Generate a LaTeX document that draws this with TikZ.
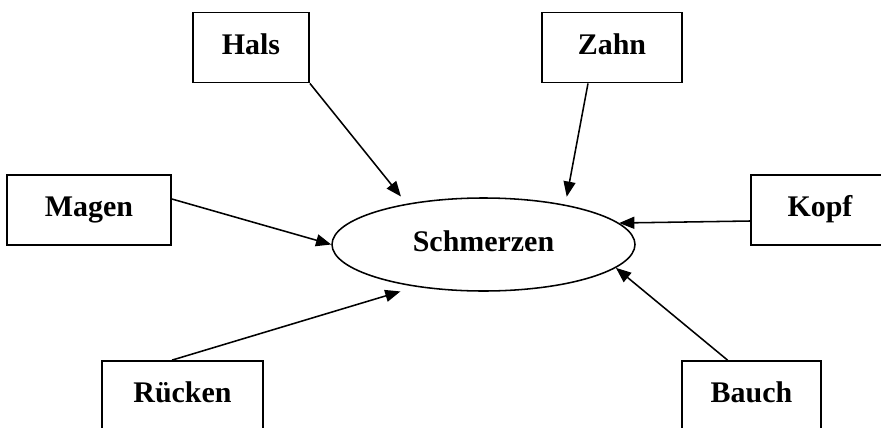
\documentclass[tikz,border=0pt]{standalone}
\usepackage{fontspec}
\setmainfont{Liberation Serif}
\usetikzlibrary{positioning,arrows.meta,shapes.geometric}

\begin{document}
\begin{tikzpicture}[
        wort/.style={font=\fontsize{21.3}{25}\selectfont\bfseries,text height=0.525cm,text depth=0.19cm,inner sep=0pt},
        box/.style={wort,draw,line width=1.3pt,minimum height=1.75cm},
        pfeil/.style={line width=1.1pt,-{Triangle[length=0.38cm,width=0.3cm]}}
    ]
        \useasboundingbox (0,0) rectangle (22.025,-10.675);
        \node[wort,draw,ellipse,line width=1.1pt,minimum width=7.575cm,minimum height=2.325cm] (schmerzen) at (12.0875,-6.1125) {Schmerzen};
        \node[box,minimum width=2.9cm] (hals) at (6.275,-1.1875) {Hals};
        \node[box,minimum width=3.5cm] (zahn) at (15.3,-1.1875) {Zahn};
        \node[box,minimum width=4.1cm] (magen) at (2.225,-5.25) {Magen};
        \node[box,minimum width=3.45cm] (kopf) at (20.5,-5.25) {Kopf};
        \node[box,minimum width=4.025cm] (ruecken) at (4.5625,-9.9) {Rücken};
        \node[box,minimum width=3.475cm] (bauch) at (18.7875,-9.9) {Bauch};
        % Pfeile zur Mitte
        \draw[pfeil,shorten >=0.23cm] (hals.south east) -- (schmerzen.152);
        \draw[pfeil,shorten >=0.2cm] ([xshift=-0.6cm]zahn.south) -- (schmerzen.26);
        \draw[pfeil] ([yshift=0.275cm]magen.east) -- (schmerzen.west);
        \draw[pfeil] ([yshift=-0.275cm]kopf.west) -- (schmerzen.9);
        \draw[pfeil] ([xshift=-0.6cm]bauch.north) -- (schmerzen.-10);
        \draw[pfeil,shorten >=0.4cm] ([xshift=-0.26cm]ruecken.north) -- (schmerzen.212);
    \end{tikzpicture}
\end{document}
